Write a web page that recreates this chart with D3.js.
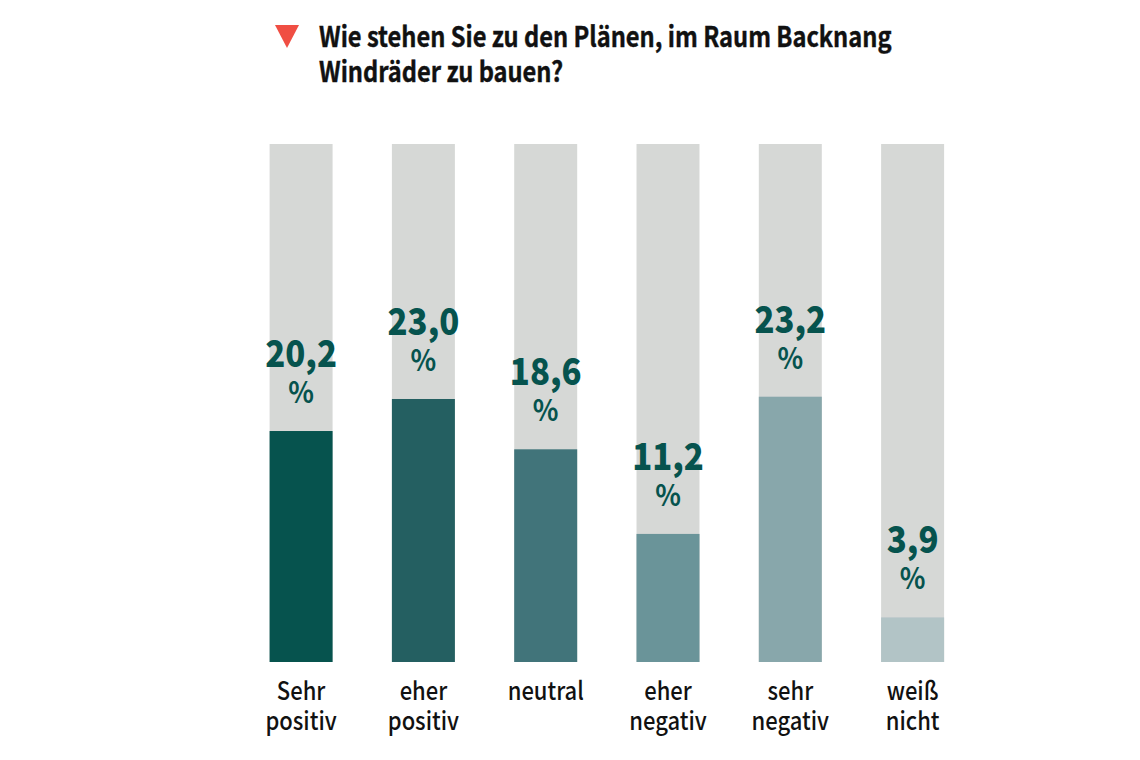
<!DOCTYPE html>
<html>
<head>
<meta charset="utf-8">
<script src="https://cdn.jsdelivr.net/npm/d3@7"></script>
<style>
    html, body { margin: 0; padding: 0; background: #ffffff; }
    svg { display: block; }
    text { font-family: "Noto Sans CJK SC", "Noto Sans", sans-serif; }
</style>
</head>
<body>
<div id="chart"></div>
<script>
const titleLines = ["Wie stehen Sie zu den Plänen, im Raum Backnang", "Windräder zu bauen?"];
const categories = ["Sehr positiv", "eher positiv", "neutral", "eher negativ", "sehr negativ", "weiß nicht"];
const values = [20.2, 23.0, 18.6, 11.2, 23.2, 3.9];
const barColors = ["#06534e", "#245f61", "#41747a", "#6a9499", "#88a7ab", "#b2c4c6"];
const trackMax = 45.3;

const width = 1140, height = 760;
const plotTop = 144, plotBottom = 662;

const svg = d3.select("#chart")
    .append("svg")
    .attr("width", width)
    .attr("height", height);

const xScale = d3.scaleBand()
    .domain(categories)
    .range([269.6, 944.1])
    .paddingInner(0.485)
    .paddingOuter(0);

const yScale = d3.scaleLinear()
    .domain([0, trackMax])
    .range([plotBottom, plotTop]);

const barMid = cat => xScale(cat) + xScale.bandwidth() / 2;

// title with the red marker
svg.append("path")
    .attr("d", d3.line()([[275, 25], [299, 25], [287, 48]]))
    .attr("fill", "#f04e43");

// the original face is narrower than the installed one, so squeeze the text
svg.append("g")
    .selectAll("text")
    .data(titleLines)
    .enter()
    .append("text")
    .attr("transform", (d, i) => "translate(319," + (47 + i * 35) + ") scale(0.845,1)")
    .attr("font-size", 28)
    .attr("font-weight", 700)
    .attr("fill", "#111111")
    .attr("stroke", "#111111")
    .attr("stroke-width", 0.4)
    .text(d => d);

// grey tracks
svg.selectAll(".track")
    .data(categories)
    .enter()
    .append("rect")
    .attr("class", "track")
    .attr("x", d => xScale(d))
    .attr("y", yScale(trackMax))
    .attr("width", xScale.bandwidth())
    .attr("height", yScale(0) - yScale(trackMax))
    .attr("fill", "#d6d8d6");

svg.selectAll(".bar")
    .data(values)
    .enter()
    .append("rect")
    .attr("class", "bar")
    .attr("x", (d, i) => xScale(categories[i]))
    .attr("y", d => yScale(d))
    .attr("width", xScale.bandwidth())
    .attr("height", d => yScale(0) - yScale(d))
    .attr("fill", (d, i) => barColors[i]);

const fmt = d => d.toFixed(1).replace(".", ",");
const labelColor = "#06534e";

svg.selectAll(".val")
    .data(values)
    .enter()
    .append("text")
    .attr("class", "val")
    .attr("transform", (d, i) => "translate(" + barMid(categories[i]) + "," + (yScale(d) - 64) + ") scale(0.89,1)")
    .attr("text-anchor", "middle")
    .attr("font-size", 37)
    .attr("font-weight", 900)
    .attr("fill", labelColor)
    .text(fmt);

svg.selectAll(".pct")
    .data(values)
    .enter()
    .append("text")
    .attr("class", "pct")
    .attr("transform", (d, i) => "translate(" + barMid(categories[i]) + "," + (yScale(d) - 28) + ") scale(0.92,1)")
    .attr("text-anchor", "middle")
    .attr("font-size", 29)
    .attr("font-weight", 700)
    .attr("fill", labelColor)
    .text("%");

// category axis, labels broken on two lines
const xAxis = d3.axisBottom(xScale).tickSize(0).tickPadding(0);

const axisG = svg.append("g")
    .attr("transform", "translate(0," + plotBottom + ")")
    .call(xAxis);

axisG.select(".domain").remove();

axisG.selectAll(".tick text").each(function(d) {
    const t = d3.select(this);
    t.text(null)
        .attr("y", 0)
        .attr("dy", null)
        .attr("font-size", 25)
        .attr("font-weight", 500)
        .attr("transform", "scale(0.88,1)")
        .attr("fill", "#111111");
    d.split(" ").forEach((word, i) => {
        t.append("tspan")
            .attr("x", 0)
            .attr("y", 38 + i * 30)
            .text(word);
    });
});
</script>
</body>
</html>
